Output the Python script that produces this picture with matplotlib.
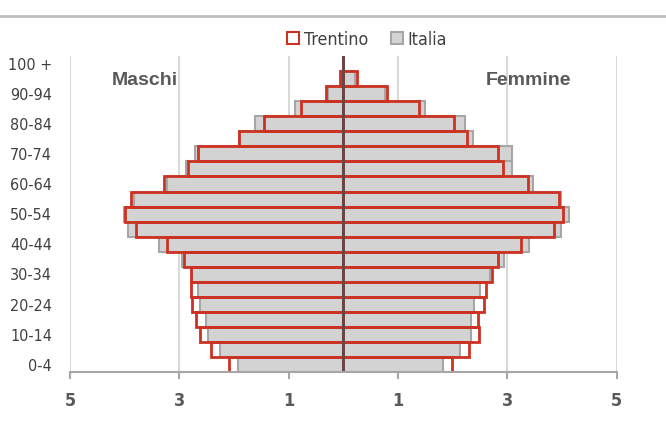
import matplotlib
matplotlib.use("Agg")
import matplotlib.pyplot as plt
from matplotlib.patches import Patch
from matplotlib.lines import Line2D
import numpy as np

# classi di età (dal basso verso l'alto)
eta = ["0-4", "5-9", "10-14", "15-19", "20-24", "25-29", "30-34", "35-39",
       "40-44", "45-49", "50-54", "55-59", "60-64", "65-69", "70-74",
       "75-79", "80-84", "85-89", "90-94", "95-99", "100 +"]

# percentuali
maschi_trentino = [2.10, 2.43, 2.63, 2.69, 2.77, 2.78, 2.78, 2.92, 3.23, 3.79, 3.99,
                   3.88, 3.28, 2.85, 2.66, 1.91, 1.45, 0.78, 0.31, 0.07, 0.0]
maschi_italia = [1.93, 2.25, 2.48, 2.51, 2.63, 2.66, 2.77, 2.96, 3.38, 3.93, 4.02,
                 3.83, 3.23, 2.87, 2.72, 1.91, 1.61, 0.88, 0.29, 0.05, 0.0]
femmine_trentino = [1.98, 2.29, 2.48, 2.47, 2.58, 2.61, 2.72, 2.82, 3.25, 3.86, 4.01,
                    3.94, 3.38, 2.92, 2.83, 2.27, 2.02, 1.39, 0.80, 0.25, 0.0]
femmine_italia = [1.83, 2.13, 2.33, 2.33, 2.39, 2.50, 2.69, 2.93, 3.40, 3.99, 4.13,
                  3.99, 3.46, 3.08, 3.09, 2.37, 2.23, 1.49, 0.76, 0.22, 0.0]

xticks = [-5, -3, -1, 1, 3, 5]
xlabels = ["5", "3", "1", "1", "3", "5"]

stretto = {"family": "DejaVu Sans", "stretch": "condensed"}
testo = "#404040"

fig = plt.figure(figsize=(6.66, 4.21), dpi=100)
ax = fig.add_axes([0.1051, 0.1157, 0.8209, 0.7513])

y = np.arange(len(eta))

# griglia
for gx in xticks:
    ax.axvline(gx, color="#d9d9d9", lw=1.5, zorder=0)

# Italia (grigio pieno)
ax.barh(y, -np.array(maschi_italia), height=1.0, color="#d3d3d3",
        edgecolor="#a6a6a6", lw=1.5, zorder=2)
ax.barh(y, femmine_italia, height=1.0, color="#d3d3d3",
        edgecolor="#a6a6a6", lw=1.5, zorder=2)

# Trentino (solo contorno rosso)
ax.barh(y, -np.array(maschi_trentino), height=1.0, fill=False,
        edgecolor="#cc3222", lw=2, zorder=3)
ax.barh(y, femmine_trentino, height=1.0, fill=False,
        edgecolor="#cc3222", lw=2, zorder=3)

# asse centrale
ax.axvline(0, color="#5e4a4a", lw=2, zorder=4)

ax.set_xlim(-5, 5)
ax.set_ylim(-0.5, len(eta) - 0.5)

ax.set_xticks(xticks)
ax.set_xticklabels(xlabels, fontweight="bold", fontsize=13, color="#595959", **stretto)
ax.set_yticks(y[::2])
ax.set_yticklabels(eta[::2], fontsize=11.5, color=testo, **stretto)

ax.tick_params(axis="x", direction="out", length=5, width=1.5,
               color="#a6a6a6", pad=9)
ax.tick_params(axis="y", length=0, pad=13)

for s in ["top", "right", "left"]:
    ax.spines[s].set_visible(False)
ax.spines["bottom"].set_color("#a6a6a6")
ax.spines["bottom"].set_linewidth(1.5)
ax.spines["bottom"].set_zorder(5)

ax.text(-3.64, 18.84, "Maschi", ha="center", va="center", fontsize=14,
        fontweight="bold", color="#595959", fontfamily="Liberation Sans")
ax.text(3.39, 18.84, "Femmine", ha="center", va="center", fontsize=14,
        fontweight="bold", color="#595959", fontfamily="Liberation Sans")

# legenda
handles = [Patch(facecolor="white", edgecolor="#cc3222", lw=1.5, label="Trentino"),
           Patch(facecolor="#d3d3d3", edgecolor="#a6a6a6", lw=1.5, label="Italia")]
fig.legend(handles=handles, loc="center", bbox_to_anchor=(0.551, 0.906), ncol=2,
           frameon=False, handlelength=0.68, handleheight=0.68, handletextpad=0.25,
           columnspacing=1.3, prop={"size": 12.8, **stretto},
           labelcolor=testo)

# linea superiore
fig.add_artist(Line2D([0, 1], [1 - 16 / 421, 1 - 16 / 421], transform=fig.transFigure,
                      color="#bfbfbf", lw=2))

plt.savefig("out.png", dpi=100)
